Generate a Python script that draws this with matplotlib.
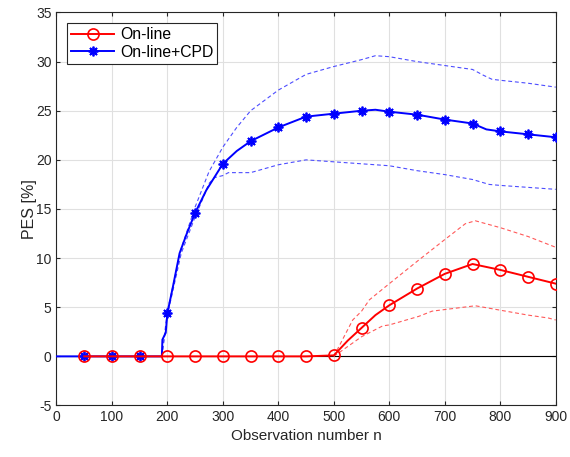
"""PES against observation number, on-line vs on-line+CPD."""
import numpy as np
import matplotlib
matplotlib.use('Agg')
import matplotlib.pyplot as plt

plt.rcParams['font.family'] = ['Liberation Sans', 'DejaVu Sans']
plt.rcParams['axes.unicode_minus'] = False

# On-line (red)
n_online = [50, 100, 150, 200, 250, 300, 350, 400, 450, 500,
            525, 550, 575, 600, 650, 700, 750, 800, 850, 900]
pes_online = [0, 0, 0, 0, 0, 0, 0, 0, 0, 0.1,
              1.6, 2.9, 4.2, 5.2, 6.9, 8.4, 9.4, 8.8, 8.1, 7.4]
n_online_band = [500, 534, 550, 564, 600, 653, 698, 737, 755, 800, 850, 900]
online_hi = [0, 3.7, 4.6, 5.75, 7.4, 9.8, 11.8, 13.5, 13.8, 13.1, 12.2, 11.1]
n_online_lo = [500, 550, 588, 600, 653, 677, 698, 755, 800, 850, 887, 900]
online_lo = [0, 2.0, 3.1, 3.2, 4.07, 4.6, 4.75, 5.15, 4.7, 4.2, 3.9, 3.7]

# On-line+CPD (blue)
n_cpd = [0, 50, 100, 150, 190, 191, 197, 200, 210, 222, 235, 250, 270,
         300, 325, 350, 400, 450, 500, 550, 575, 600, 650, 700, 750,
         775, 800, 850, 900]
pes_cpd = [0, 0, 0, 0, 0, 1.7, 2.4, 4.4, 7.1, 10.5, 12.5, 14.6, 16.9,
           19.6, 20.9, 21.9, 23.3, 24.4, 24.7, 25.0, 25.1, 24.9, 24.6, 24.1, 23.7,
           23.1, 22.9, 22.6, 22.3]
n_cpd_hi = [190, 200, 225, 250, 275, 300, 325, 350, 400, 450, 500, 550,
            575, 600, 650, 700, 750, 770, 785, 800, 850, 900]
cpd_hi = [0, 4.6, 11.0, 15.2, 18.8, 21.3, 23.3, 25.0, 27.1, 28.7, 29.5, 30.2,
          30.6, 30.5, 30.0, 29.6, 29.2, 28.6, 28.2, 28.1, 27.8, 27.4]
n_cpd_lo = [190, 200, 225, 250, 265, 275, 285, 300, 310, 350, 400, 450, 500,
            550, 600, 650, 700, 750, 780, 800, 850, 900]
cpd_lo = [0, 4.2, 10.5, 14.2, 16.2, 17.6, 18.2, 18.4, 18.7, 18.7, 19.5, 20.0, 19.8,
          19.6, 19.4, 18.9, 18.5, 18.0, 17.5, 17.4, 17.2, 17.0]


def marker_idx(ns):
    return [i for i, n in enumerate(ns) if n > 0 and n % 50 == 0]


fig = plt.figure(figsize=(5.7, 4.57), dpi=100)
ax = fig.add_axes([0.099, 0.1127, 0.876, 0.86])

ax.axhline(0, color='black', lw=0.8, zorder=1)

band_kw = dict(lw=0.8, dashes=(3.5, 2.5), zorder=2)
ax.plot(n_cpd_hi, cpd_hi, color=(0.3, 0.3, 1.0), **band_kw)
ax.plot(n_cpd_lo, cpd_lo, color=(0.3, 0.3, 1.0), **band_kw)
ax.plot(n_online_band, online_hi, color=(1.0, 0.35, 0.35), **band_kw)
ax.plot(n_online_lo, online_lo, color=(1.0, 0.35, 0.35), **band_kw)

ax.plot(n_cpd, pes_cpd, color='blue', lw=1.4, marker=(8, 2, 0), markersize=7,
        mew=1.3, markevery=marker_idx(n_cpd), label='On-line+CPD', zorder=3)
ax.plot(n_online, pes_online, color='red', lw=1.4, marker='o', markersize=8,
        mfc='none', mew=1.2, markevery=marker_idx(n_online), label='On-line',
        zorder=4)

ax.set_xlim(0, 900)
ax.set_ylim(-5, 35)
ax.set_xticks(np.arange(0, 901, 100))
ax.set_yticks(np.arange(-5, 36, 5))
ax.grid(True, color='#e0e0e0', lw=0.8)
ax.set_axisbelow(True)
ax.tick_params(direction='in', length=3, labelsize=10, colors='#262626',
               top=True, right=True)
for s in ax.spines.values():
    s.set_color('#262626')
    s.set_linewidth(0.8)

ax.set_xlabel('Observation number n', fontsize=11, color='#262626', labelpad=3)
ax.set_ylabel('PES [%]', fontsize=11.5, color='#262626', labelpad=-1)

h, l = ax.get_legend_handles_labels()
leg = ax.legend(h[::-1], l[::-1], loc='upper left', fontsize=11.3,
                fancybox=False, edgecolor='#262626', framealpha=1,
                borderaxespad=0.7, borderpad=0.25, labelspacing=0.15,
                handlelength=2.7, handletextpad=0.4)
leg.get_frame().set_linewidth(0.8)

fig.savefig('out.png', dpi=100)
